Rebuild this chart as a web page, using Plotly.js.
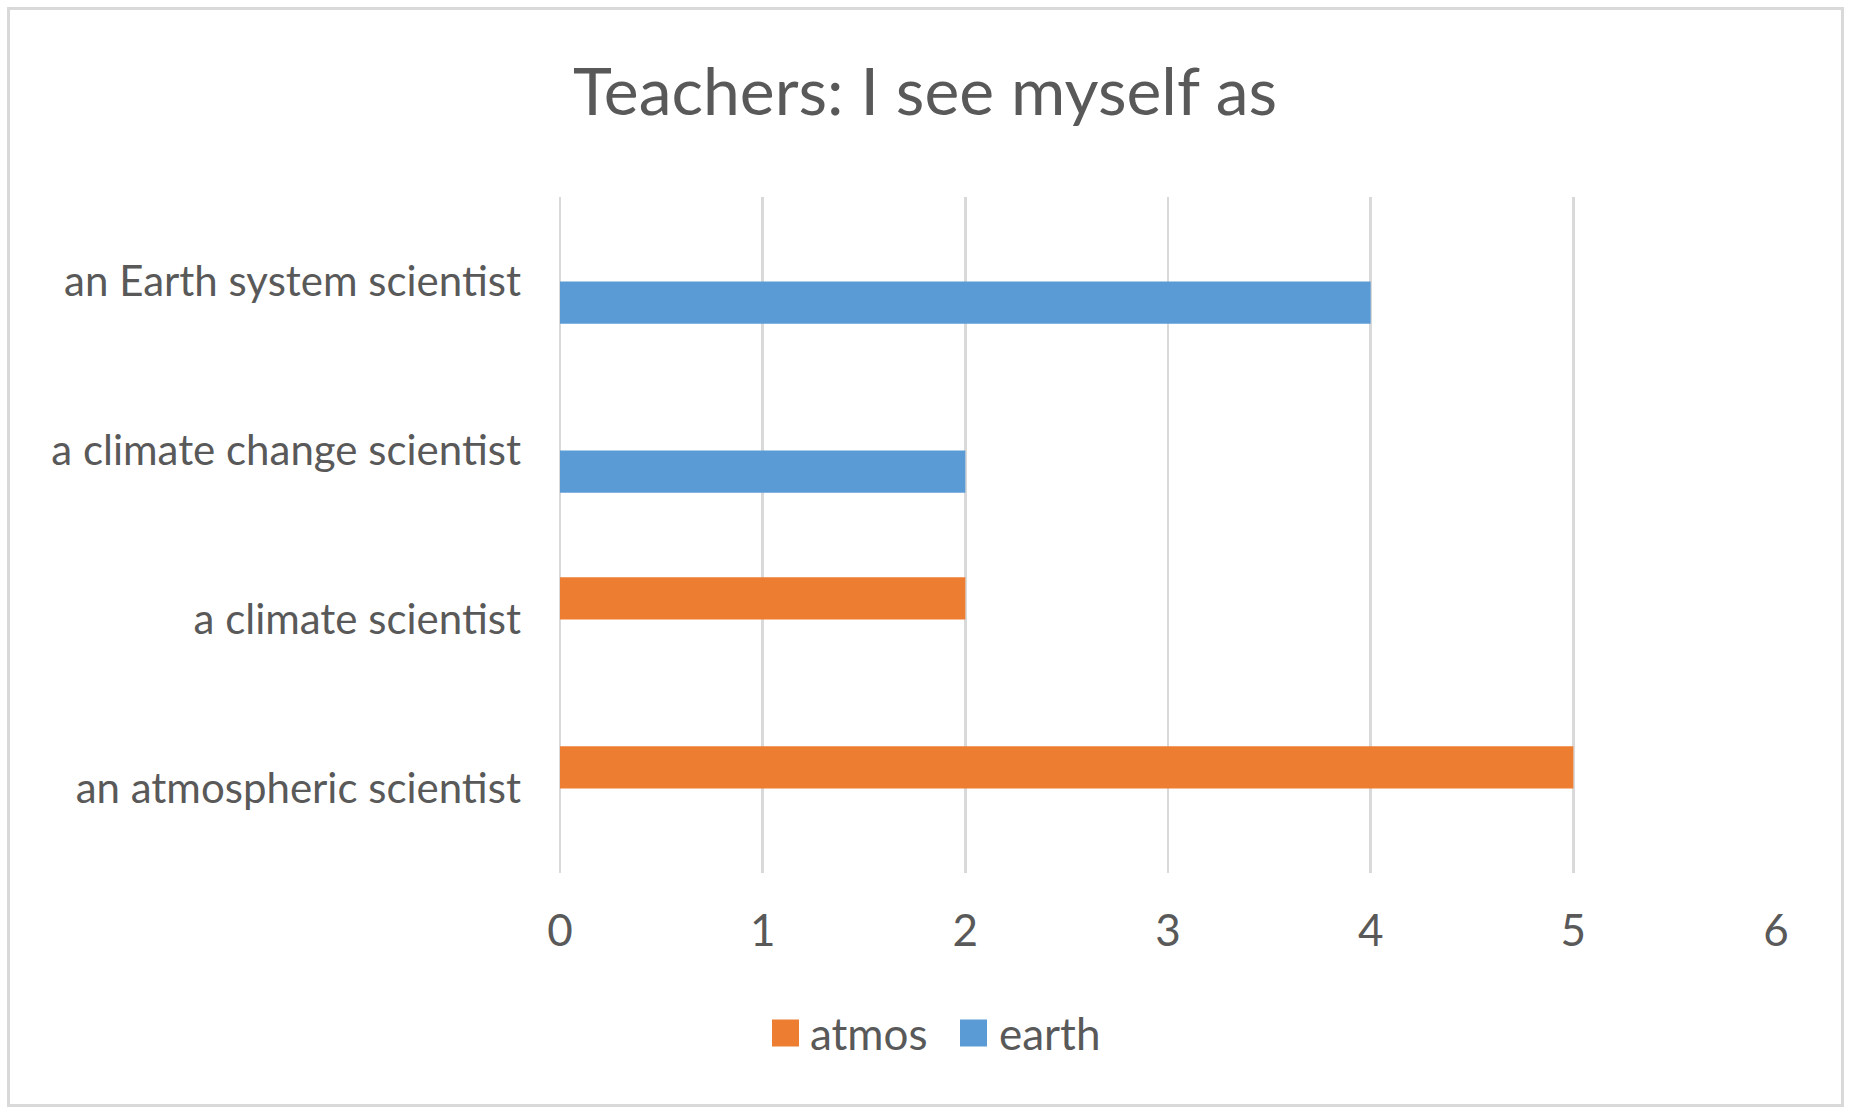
<!DOCTYPE html>
<html>
<head>
<meta charset="utf-8">
<script src="https://cdn.plot.ly/plotly-3.0.1.min.js"></script>
<style>
  html, body { margin: 0; padding: 0; background: #ffffff; }
  #chart { position: absolute; left: 0; top: 0; width: 1850px; height: 1115px; }
  #frame {
    position: absolute; left: 7px; top: 7px; width: 1831px; height: 1094px;
    border: 3px solid #d9d9d9; pointer-events: none;
  }
</style>
</head>
<body>
<div id="chart"></div>
<div id="frame"></div>
<script>
// Survey categories, listed bottom to top
const categories = [
  "an atmospheric scientist",
  "a climate scientist",
  "a climate change scientist",
  "an Earth system scientist"
];
const seriesNames = ["atmos", "earth"];
const atmosValues = [5, 2, 0, 0];
const earthValues = [0, 0, 2, 4];
const xTickValues = [0, 1, 2, 3, 4, 5, 6];

const colors = { atmos: "#ED7D31", earth: "#5B9BD5" };
const textColor = "#595959";
const gridColor = "#d9d9d9";
const fontFamily = "Lato, 'Open Sans', sans-serif";

const W = 1850, H = 1115;
const margin = { l: 560, r: 74, t: 197, b: 242, pad: 0 };
const plotW = W - margin.l - margin.r;
const plotH = H - margin.t - margin.b;
const toPaperX = px => (px - margin.l) / plotW;
const toPaperY = py => (H - margin.b - py) / plotH;

// earth first so it sits at the lower slot of each group
const traces = [
  {
    type: "bar", orientation: "h", name: seriesNames[1],
    y: categories, x: earthValues,
    marker: { color: colors.earth }, showlegend: false, hoverinfo: "x+name"
  },
  {
    type: "bar", orientation: "h", name: seriesNames[0],
    y: categories, x: atmosValues,
    marker: { color: colors.atmos }, showlegend: false, hoverinfo: "x+name"
  }
];

// Legend: colour swatch + label for each series, centred under the plot
const legendItems = [
  { name: seriesNames[0], color: colors.atmos, swatchX: 772, textX: 808 },
  { name: seriesNames[1], color: colors.earth, swatchX: 960, textX: 997 }
];
const legendY = 1033, sw = 27;
const shapes = [];
const annotations = [];
legendItems.forEach(it => {
  shapes.push({
    type: "rect", xref: "paper", yref: "paper",
    x0: toPaperX(it.swatchX), x1: toPaperX(it.swatchX + sw),
    y0: toPaperY(legendY + sw / 2), y1: toPaperY(legendY - sw / 2),
    fillcolor: it.color, line: { width: 0 }
  });
  annotations.push({
    xref: "paper", yref: "paper",
    x: toPaperX(it.textX), y: toPaperY(legendY),
    xanchor: "left", yanchor: "middle", showarrow: false,
    text: it.name, font: { family: fontFamily, size: 44, color: textColor }
  });
});

const layout = {
  width: W, height: H,
  margin: margin,
  paper_bgcolor: "#ffffff", plot_bgcolor: "#ffffff",
  title: {
    text: "Teachers: I see myself as",
    font: { family: fontFamily, size: 66, color: textColor },
    x: 0.5, xanchor: "center", y: 1 - 92 / H, yanchor: "middle"
  },
  barmode: "group", bargap: 0.5, bargroupgap: 0,
  xaxis: {
    range: [0, 6], tickvals: xTickValues, ticktext: xTickValues.map(String),
    showgrid: true, gridcolor: gridColor, gridwidth: 2.5,
    zeroline: true, zerolinecolor: gridColor, zerolinewidth: 2.5,
    showline: false, ticks: "", ticklabelstandoff: 28,
    tickfont: { family: fontFamily, size: 44, color: textColor },
    fixedrange: true
  },
  yaxis: {
    type: "category", categoryorder: "array", categoryarray: categories,
    showgrid: false, zeroline: false, showline: false, ticks: "",
    ticklabelstandoff: 38,
    tickfont: { family: fontFamily, size: 42, color: textColor },
    fixedrange: true
  },
  shapes: shapes,
  annotations: annotations,
  showlegend: false
};

Plotly.newPlot("chart", traces, layout, { displayModeBar: false, staticPlot: true });
</script>
</body>
</html>
